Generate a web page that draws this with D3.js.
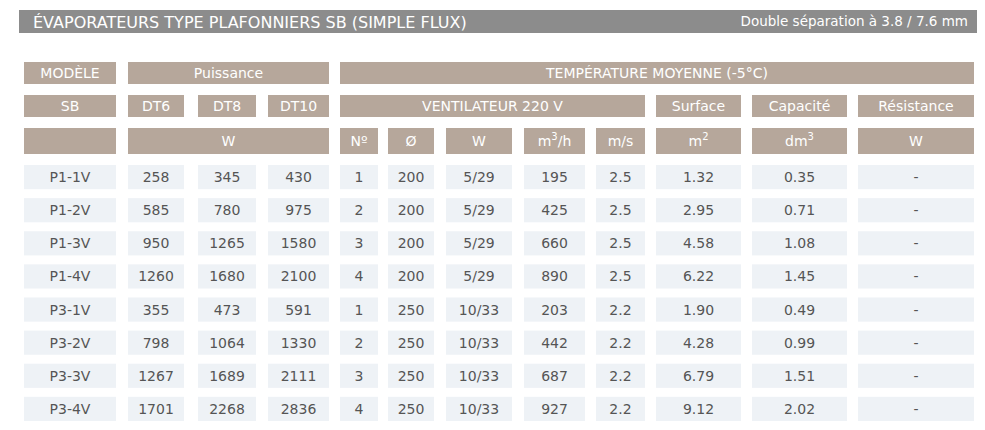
<!DOCTYPE html>
<html><head><meta charset="utf-8">
<script src="https://cdn.jsdelivr.net/npm/d3@7"></script>
<style>body{margin:0;background:#fff}text{font-family:"DejaVu Sans",Verdana,sans-serif}</style>
</head><body><div id="chart"></div>
<script>
const title = "ÉVAPORATEURS TYPE PLAFONNIERS SB (SIMPLE FLUX)"
const subtitle = "Double séparation à 3.8 / 7.6 mm"
const models = ["P1-1V","P1-2V","P1-3V","P1-4V","P3-1V","P3-2V","P3-3V","P3-4V"]
const dt6 = [258,585,950,1260,355,798,1267,1701]
const dt8 = [345,780,1265,1680,473,1064,1689,2268]
const dt10 = [430,975,1580,2100,591,1330,2111,2836]
const fanN = [1,2,3,4,1,2,3,4]
const fanD = [200,200,200,200,250,250,250,250]
const fanW = ["5/29","5/29","5/29","5/29","10/33","10/33","10/33","10/33"]
const flow = [195,425,660,890,203,442,687,927]
const speed = ["2.5","2.5","2.5","2.5","2.2","2.2","2.2","2.2"]
const surface = ["1.32","2.95","4.58","6.22","1.90","4.28","6.79","9.12"]
const capacity = ["0.35","0.71","1.08","1.45","0.49","0.99","1.51","2.02"]
const resistance = ["-","-","-","-","-","-","-","-"]
// header rows: [label, firstCol, lastCol]
const head1 = [["MODÈLE",0,0],["Puissance",1,3],["TEMPÉRATURE MOYENNE (-5°C)",4,11]]
const head2 = [["SB",0,0],["DT6",1,1],["DT8",2,2],["DT10",3,3],["VENTILATEUR 220 V",4,8],["Surface",9,9],["Capacité",10,10],["Résistance",11,11]]
const head3 = [["",0,0],["W",1,3],["Nº",4,4],["Ø",5,5],["W",6,6],["m|3|/h",7,7],["m/s",8,8],["m|2|",9,9],["dm|3|",10,10],["W",11,11]]

const columns = [models,dt6,dt8,dt10,fanN,fanD,fanW,flow,speed,surface,capacity,resistance]
const edges = [[24,116],[128,184],[198,256],[268,329],[340,378],[388,434],[446,512],[524,585],[596,645],[656,741],[752,847],[858,974]]

const svg = d3.select("#chart").append("svg").attr("width",985).attr("height",430)
svg.append("rect").attr("x",19).attr("y",10).attr("width",958).attr("height",23).attr("fill","#8c8c8c")
svg.append("text").attr("x",33).attr("y",28).attr("fill","#fff").attr("font-size",16).text(title)
svg.append("text").attr("x",968).attr("y",26).attr("text-anchor","end").attr("fill","#fff").attr("font-size",13.5).text(subtitle)

const hc = "#b6a79b"
function headRow(cells, y, h){
  cells.forEach(([lab,a,b]) => {
    const x0 = edges[a][0], x1 = edges[b][1]
    svg.append("rect").attr("x",x0).attr("y",y).attr("width",x1-x0).attr("height",h).attr("fill",hc)
    const t = svg.append("text").attr("x",(x0+x1)/2).attr("y",y+h/2+5).attr("text-anchor","middle")
      .attr("fill","#fff").attr("font-size",14)
    const parts = lab.split("|")
    t.append("tspan").text(parts[0])
    if (parts.length>1){
      t.append("tspan").attr("dy",-6).attr("font-size",10).text(parts[1])
      if (parts[2]) t.append("tspan").attr("dy",6).text(parts[2])
    }
  })
}
headRow(head1,62,22)
headRow(head2,95,22)
headRow(head3,128,26)

const y = d3.scaleBand().domain(models).range([165,421]).paddingInner(0.27).paddingOuter(0)
columns.forEach((col,ci) => {
  const [x0,x1] = edges[ci]
  const g = svg.append("g")
  g.selectAll("rect").data(col).join("rect")
    .attr("x",x0).attr("y",(d,i)=>y(models[i])).attr("width",x1-x0).attr("height",y.bandwidth()).attr("fill","#eef2f6")
  g.selectAll("text").data(col).join("text")
    .attr("x",(x0+x1)/2).attr("y",(d,i)=>y(models[i])+y.bandwidth()/2+5).attr("text-anchor","middle")
    .attr("fill","#555").attr("font-size",14).text(d=>d)
})
</script></body></html>
